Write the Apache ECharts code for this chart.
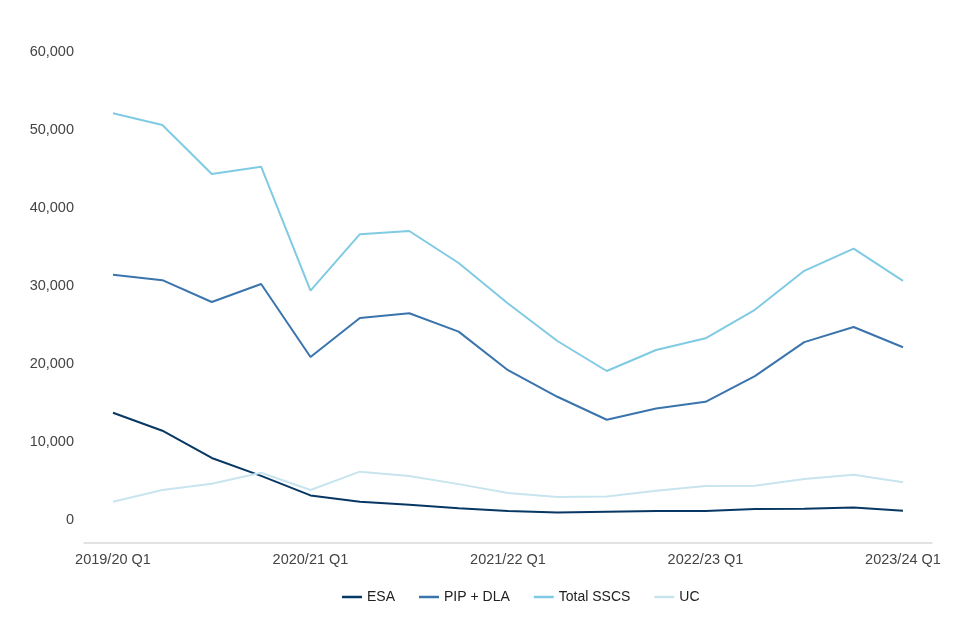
<!DOCTYPE html>
<html>
<head>
<meta charset="utf-8">
<script src="https://cdn.jsdelivr.net/npm/echarts@6/dist/echarts.min.js"></script>
<style>html,body{margin:0;padding:0;background:#fff}#c{width:960px;height:640px}</style>
</head>
<body>
<div id="c"></div>
<script>
const categories = ['2019/20 Q1','2019/20 Q2','2019/20 Q3','2019/20 Q4',
  '2020/21 Q1','2020/21 Q2','2020/21 Q3','2020/21 Q4',
  '2021/22 Q1','2021/22 Q2','2021/22 Q3','2021/22 Q4',
  '2022/23 Q1','2022/23 Q2','2022/23 Q3','2022/23 Q4',
  '2023/24 Q1'];
const esa = [13750, 11450, 7950, 5650, 3150, 2350, 1950, 1500, 1150, 950, 1050, 1150, 1150, 1400, 1450, 1600, 1200];
const pipDla = [31450, 30750, 27950, 30250, 20900, 25900, 26500, 24150, 19200, 15800, 12850, 14300, 15150, 18450, 22800, 24750, 22150];
const totalSscs = [52150, 50650, 44350, 45300, 29400, 36650, 37050, 32950, 27750, 22950, 19100, 21800, 23300, 26950, 31950, 34800, 30650];
const uc = [2350, 3850, 4650, 6050, 3850, 6200, 5650, 4600, 3450, 2950, 3000, 3750, 4350, 4400, 5250, 5800, 4850];
const yTicks = [0, 10000, 20000, 30000, 40000, 50000, 60000];

const chart = echarts.init(document.getElementById('c'));
const font = 'Liberation Sans, Arial, Helvetica, sans-serif';
function mk(name, data, color) {
  return {name, type:'line', data, symbol:'none', xAxisIndex:0, yAxisIndex:0,
    lineStyle:{color, width:2}, itemStyle:{color}};
}
chart.setOption({
  animation:false,
  textStyle:{fontFamily:font},
  grid:[
    {left:113, right:57, top:52, bottom:120},
    {left:84, right:28, top:52, bottom:120}
  ],
  legend:{
    bottom:31, left:337, itemWidth:20, itemHeight:2.5, itemGap:24,
    icon:'rect',
    textStyle:{fontSize:14, color:'#222', fontFamily:font},
    data:['ESA','PIP + DLA','Total SSCS','UC']
  },
  xAxis:[
    {type:'category', gridIndex:0, data:categories, boundaryGap:false,
     axisLine:{show:false}, axisTick:{show:false},
     axisLabel:{show:true, interval:3, color:'#444', fontSize:14.5, margin:32, fontFamily:font}},
    {type:'category', gridIndex:1, data:[''], boundaryGap:false, offset:23,
     axisLine:{show:true, onZero:false, lineStyle:{color:'#d9d9d9', width:1.5}},
     axisTick:{show:false}, axisLabel:{show:false}}
  ],
  yAxis:[
    {type:'value', gridIndex:0, min:yTicks[0], max:yTicks[yTicks.length-1], interval:10000,
     splitLine:{show:false}, axisLine:{show:false}, axisTick:{show:false},
     axisLabel:{color:'#444', fontSize:14.5, margin:39, fontFamily:font,
       formatter:v=>v.toLocaleString('en-GB')}},
    {type:'value', gridIndex:1, show:false, min:0, max:1}
  ],
  series:[
    mk('ESA', esa, '#073763'),
    mk('PIP + DLA', pipDla, '#3a74ad'),
    mk('Total SSCS', totalSscs, '#80cbe3'),
    mk('UC', uc, '#c8e5ef')
  ]
});
</script>
</body>
</html>
